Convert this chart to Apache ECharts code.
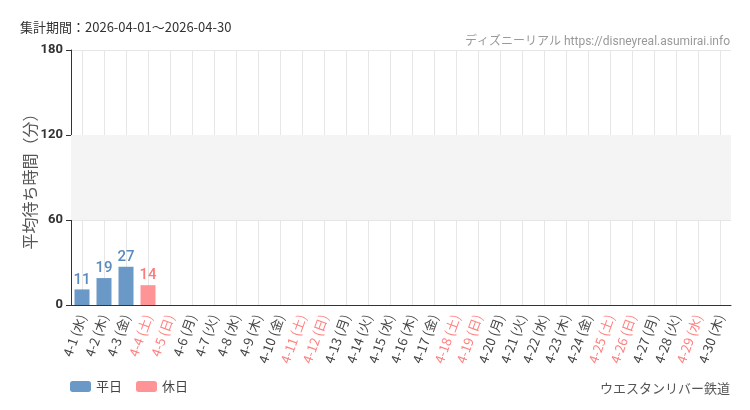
<!DOCTYPE html>
<html><head><meta charset="utf-8">
<script src="https://cdn.jsdelivr.net/npm/echarts@6/dist/echarts.min.js"></script>
<style>html,body{margin:0;padding:0;background:#fff}#c{width:750px;height:410px}</style>
</head><body><div id="c"></div>
<script>
const categories = ['4-1 (水)','4-2 (木)','4-3 (金)','4-4 (土)','4-5 (日)','4-6 (月)','4-7 (火)','4-8 (水)','4-9 (木)','4-10 (金)','4-11 (土)','4-12 (日)','4-13 (月)','4-14 (火)','4-15 (水)','4-16 (木)','4-17 (金)','4-18 (土)','4-19 (日)','4-20 (月)','4-21 (火)','4-22 (水)','4-23 (木)','4-24 (金)','4-25 (土)','4-26 (日)','4-27 (月)','4-28 (火)','4-29 (水)','4-30 (木)'];
const holidays = ['4-4 (土)','4-5 (日)','4-11 (土)','4-12 (日)','4-18 (土)','4-19 (日)','4-25 (土)','4-26 (日)','4-29 (水)'];
const weekdayValues = [11,19,27,null,null,null,null,null,null,null,null,null,null,null,null,null,null,null,null,null,null,null,null,null,null,null,null,null,null,null];
const holidayValues = [null,null,null,14,null,null,null,null,null,null,null,null,null,null,null,null,null,null,null,null,null,null,null,null,null,null,null,null,null,null];
const yTicks = [0,60,120,180];

const JP = "'Noto Sans CJK JP', sans-serif";
const NARROW = "Roboto, 'Noto Sans CJK JP', sans-serif";
const chart = echarts.init(document.getElementById('c'));
chart.setOption({
  animation: false,
  textStyle: {fontFamily: JP},
  title: [
    {text: '集計期間：2026-04-01～2026-04-30', left: 15, top: 16, textStyle: {fontSize: 13, fontWeight: 'normal', color: '#333', fontFamily: JP}},
    {text: 'ディズニーリアル https://disneyreal.asumirai.info', right: 15, top: 31, textStyle: {fontSize: 12, fontWeight: 'normal', color: '#999', fontFamily: NARROW}},
    {text: 'ウエスタンリバー鉄道', right: 15, top: 377, textStyle: {fontSize: 13, fontWeight: 'normal', color: '#555', fontFamily: JP}}
  ],
  legend: {
    left: 65, top: 375, itemWidth: 21, itemHeight: 11, itemGap: 14,
    data: ['平日','休日'],
    textStyle: {fontSize: 13, color: '#444', fontFamily: JP}
  },
  grid: {left: 71, right: 19, top: 50, bottom: 105},
  xAxis: {
    type: 'category', data: categories,
    axisLine: {lineStyle: {color: '#333'}},
    axisTick: {alignWithLabel: true, lineStyle: {color: '#333'}},
    splitLine: {show: true, alignWithLabel: true, lineStyle: {color: '#e6e6e6'}},
    axisLabel: {
      interval: 0, rotate: 70, fontSize: 13, color: '#444', fontFamily: JP, margin: 10,
      formatter: v => holidays.includes(v) ? '{h|' + v + '}' : v,
      rich: {h: {color: '#ff8080', fontSize: 13, fontFamily: JP}}
    }
  },
  yAxis: {
    type: 'value', min: 0, max: 180, interval: 60,
    name: '平均待ち時間（分）', nameLocation: 'middle', nameGap: 33, nameMoveOverlap: false,
    nameTextStyle: {fontSize: 16, color: '#555', fontFamily: JP},
    axisLine: {show: true, lineStyle: {color: '#333'}},
    axisTick: {show: true, lineStyle: {color: '#333'}},
    axisLabel: {fontSize: 13, color: '#333', fontWeight: 'bold', fontFamily: "Roboto, sans-serif",
      formatter: v => yTicks.includes(v) ? String(v) : ''},
    splitLine: {lineStyle: {color: '#e6e6e6'}}
  },
  series: [
    {name: '平日', type: 'bar', stack: 's', data: weekdayValues, barWidth: 15,
     itemStyle: {color: '#6a98c7'},
     label: {show: true, position: 'top', color: '#5a8ac0', fontSize: 15, fontWeight: 500, fontFamily: NARROW, distance: 2},
     markArea: {silent: true, itemStyle: {color: '#f4f4f4'}, data: [[{yAxis: 60}, {yAxis: 120}]]}
    },
    {name: '休日', type: 'bar', stack: 's', data: holidayValues, barWidth: 15,
     itemStyle: {color: '#ff9497'},
     label: {show: true, position: 'top', color: '#ff7a7a', fontSize: 15, fontWeight: 500, fontFamily: NARROW, distance: 2}
    }
  ]
});
</script></body></html>
